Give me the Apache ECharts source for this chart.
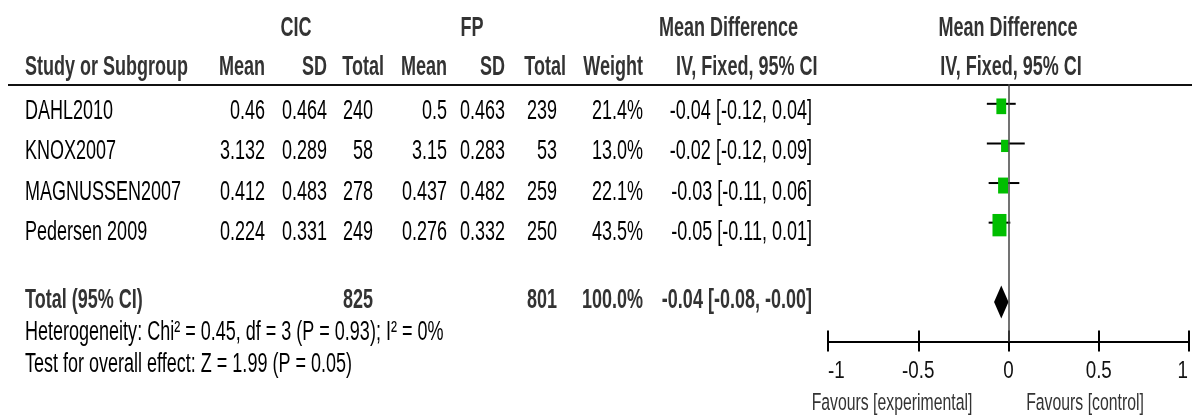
<!DOCTYPE html>
<html><head><meta charset="utf-8">
<script src="https://cdn.jsdelivr.net/npm/echarts@6/dist/echarts.min.js"></script>
<style>html,body{margin:0;padding:0;background:#fff}#c{width:1192px;height:416px}</style>
</head><body><div id="c"></div>
<script>
// ---- data ----
const studies = ['DAHL2010', 'KNOX2007', 'MAGNUSSEN2007', 'Pedersen 2009'];
const cicMean = ['0.46', '3.132', '0.412', '0.224'];
const cicSD = ['0.464', '0.289', '0.483', '0.331'];
const cicTotal = [240, 58, 278, 249];
const fpMean = ['0.5', '3.15', '0.437', '0.276'];
const fpSD = ['0.463', '0.283', '0.482', '0.332'];
const fpTotal = [239, 53, 259, 250];
const weights = [21.4, 13.0, 22.1, 43.5];
const md = [-0.04, -0.02, -0.03, -0.05];
const ciLow = [-0.12, -0.12, -0.11, -0.11];
const ciHigh = [0.04, 0.09, 0.06, 0.01];
const totalCIC = 825;
const totalFP = 801;
const totalWeight = 100.0;
const totalMD = -0.04;
const totalLow = -0.08;
const totalHigh = -0.00;
const heterogeneityText = 'Heterogeneity: Chi\u00b2 = 0.45, df = 3 (P = 0.93); I\u00b2 = 0%';
const overallText = 'Test for overall effect: Z = 1.99 (P = 0.05)';
const xTickValues = [-1, -0.5, 0, 0.5, 1];
const xTickLabels = ['-1', '-0.5', '0', '0.5', '1'];
const favoursLeft = 'Favours [experimental]';
const favoursRight = 'Favours [control]';

// ---- helpers ----
const FONT = '"Liberation Sans", Arial, sans-serif';
const SX = 0.667;
function fmt(v) { return ((v < 0 || Object.is(v, -0)) ? '-' : '') + Math.abs(v).toFixed(2); }
function ciText(m, l, h) { return fmt(m) + ' [' + fmt(l) + ', ' + fmt(h) + ']'; }
function T(x, y, text, o) {
  o = o || {};
  return {
    type: 'text', x: x, y: y, scaleX: o.sx || SX, silent: true,
    style: {
      text: text, fontSize: o.fs || 27, fontFamily: FONT,
      fontWeight: o.bold ? 'bold' : 'normal', fill: o.color || '#000',
      align: o.align || 'left', verticalAlign: 'middle'
    }
  };
}

const H1 = 29, H2 = 67.5;
const rowY = [111.5, 152, 192.5, 232.5];
const totalY = 301, hetY = 333, testY = 365;
const HC = '#333';

const g = [];
// headers
g.push(T(296, H1, 'CIC', {bold: true, color: HC, align: 'center'}));
g.push(T(472, H1, 'FP', {bold: true, color: HC, align: 'center'}));
g.push(T(659, H1, 'Mean Difference', {bold: true, color: HC}));
g.push(T(1008, H1, 'Mean Difference', {bold: true, color: HC, align: 'center'}));
g.push(T(25, H2, 'Study or Subgroup', {bold: true, color: HC}));
g.push(T(265, H2, 'Mean', {bold: true, color: HC, align: 'right'}));
g.push(T(327, H2, 'SD', {bold: true, color: HC, align: 'right'}));
g.push(T(384, H2, 'Total', {bold: true, color: HC, align: 'right'}));
g.push(T(447, H2, 'Mean', {bold: true, color: HC, align: 'right'}));
g.push(T(505, H2, 'SD', {bold: true, color: HC, align: 'right'}));
g.push(T(566, H2, 'Total', {bold: true, color: HC, align: 'right'}));
g.push(T(643, H2, 'Weight', {bold: true, color: HC, align: 'right'}));
g.push(T(676, H2, 'IV, Fixed, 95% CI', {bold: true, color: HC}));
g.push(T(1011, H2, 'IV, Fixed, 95% CI', {bold: true, color: HC, align: 'center'}));
// header rule
g.push({type: 'line', silent: true, shape: {x1: 8, y1: 85, x2: 1192, y2: 85}, style: {stroke: '#111', lineWidth: 2}});
// study rows
studies.forEach(function (s, i) {
  const y = rowY[i];
  g.push(T(25, y, s));
  g.push(T(265, y, cicMean[i], {align: 'right'}));
  g.push(T(327, y, cicSD[i], {align: 'right'}));
  g.push(T(373, y, String(cicTotal[i]), {align: 'right'}));
  g.push(T(447, y, fpMean[i], {align: 'right'}));
  g.push(T(505, y, fpSD[i], {align: 'right'}));
  g.push(T(557, y, String(fpTotal[i]), {align: 'right'}));
  g.push(T(643, y, weights[i].toFixed(1) + '%', {align: 'right'}));
  g.push(T(812, y, ciText(md[i], ciLow[i], ciHigh[i]), {align: 'right'}));
});
// total row
g.push(T(25, totalY, 'Total (95% CI)', {bold: true, color: HC}));
g.push(T(373, totalY, String(totalCIC), {bold: true, color: HC, align: 'right'}));
g.push(T(557, totalY, String(totalFP), {bold: true, color: HC, align: 'right'}));
g.push(T(643, totalY, totalWeight.toFixed(1) + '%', {bold: true, color: HC, align: 'right'}));
g.push(T(812, totalY, ciText(totalMD, totalLow, totalHigh), {bold: true, color: HC, align: 'right'}));
g.push(T(25, hetY, heterogeneityText));
g.push(T(25, testY, overallText));
g.push(T(892, 403, favoursLeft, {fs: 24.5, sx: 0.645, color: HC, align: 'center'}));
g.push(T(1085, 403, favoursRight, {fs: 24.5, sx: 0.645, color: HC, align: 'center'}));

// ---- series data ----
const ciData = studies.map(function (s, i) { return [ciLow[i], ciHigh[i], i]; });
const sqData = studies.map(function (s, i) { return [md[i], i, weights[i]]; });
const diaData = [[totalLow, totalMD, totalHigh, 5]];
const K = 2.12;

const GRID = {left: 828, right: 3, top: 84, bottom: 74.5, containLabel: false};
const chart = echarts.init(document.getElementById('c'), null, {renderer: 'canvas'});
chart.setOption({
  animation: false,
  backgroundColor: '#fff',
  grid: [Object.assign({}, GRID), Object.assign({}, GRID)],
  xAxis: [{
    type: 'value', gridIndex: 0, min: -1, max: 1, interval: 0.5, position: 'bottom',
    axisLine: {show: true, onZero: false, lineStyle: {color: '#000', width: 2}},
    axisTick: {show: true, inside: true, length: 11, lineStyle: {color: '#000', width: 2}},
    axisLabel: {show: false}, splitLine: {show: false}
  }, {
    type: 'value', gridIndex: 1, min: -1, max: 1, interval: 0.5, position: 'bottom',
    axisLine: {show: false, onZero: false},
    axisTick: {show: true, inside: false, length: 10, lineStyle: {color: '#000', width: 2}},
    axisLabel: {show: false},
    splitLine: {show: false}
  }],
  yAxis: [
    {type: 'value', gridIndex: 0, min: -0.5, max: 6, inverse: true, show: false},
    {type: 'value', gridIndex: 1, min: -0.5, max: 6, inverse: true, show: false}
  ],
  graphic: g,
  series: [{
    type: 'custom', xAxisIndex: 0, yAxisIndex: 0, data: ciData, silent: true,
    renderItem: function (params, api) {
      const p1 = api.coord([api.value(0), api.value(2)]);
      const p2 = api.coord([api.value(1), api.value(2)]);
      return {type: 'line', shape: {x1: p1[0], y1: p1[1], x2: p2[0], y2: p2[1]},
        style: {stroke: '#000', lineWidth: 2}};
    }
  }, {
    type: 'scatter', xAxisIndex: 0, yAxisIndex: 0, data: sqData, silent: true, symbol: 'rect',
    symbolSize: function (v) { const w = K * Math.sqrt(v[2]); return [w, w * 1.6]; },
    symbolOffset: [0, 2.5],
    itemStyle: {color: '#00BE00', opacity: 1},
    markLine: {silent: true, symbol: ['none', 'none'], label: {show: false},
      lineStyle: {color: '#444', width: 1.5, type: 'solid'},
      data: [{xAxis: 0}]},
    z: 3
  }, {
    type: 'custom', xAxisIndex: 0, yAxisIndex: 0, data: diaData, silent: true, z: 4,
    renderItem: function (params, api) {
      const l = api.coord([api.value(0), api.value(3)]);
      const m = api.coord([api.value(1), api.value(3)]);
      const h = api.coord([api.value(2), api.value(3)]);
      const hh = 16.5;
      return {type: 'polygon', shape: {points: [[l[0], l[1]], [m[0], m[1] - hh], [h[0], h[1]], [m[0], m[1] + hh]]},
        style: {fill: '#000'}};
    }
  }]
});
// tick labels placed through the x axis scale (end labels kept inside, as in the reference)
const axisY = chart.convertToPixel({yAxisIndex: 0}, 6);
xTickValues.forEach(function (v, i) {
  const px = chart.convertToPixel({xAxisIndex: 0}, v);
  const last = xTickValues.length - 1;
  const al = i === 0 ? 'left' : (i === last ? 'right' : 'center');
  const dx = i === last ? -1 : 0;
  g.push(T(px + dx, axisY + 30.5, xTickLabels[i], {fs: 23.5, sx: 0.8, color: '#111', align: al}));
});
chart.setOption({graphic: g});
</script></body></html>
